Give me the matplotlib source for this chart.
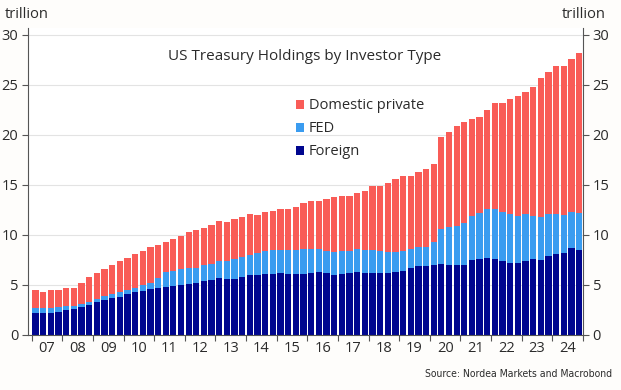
import matplotlib
matplotlib.use("Agg")
import matplotlib.pyplot as plt
import numpy as np

# Readings: stacked cumulative levels (trillion USD), quarterly 2007Q1-2024Q4
total = [4.50, 4.33, 4.47, 4.53, 4.70, 4.67, 5.23, 5.77, 6.23, 6.60, 7.00, 7.37,
         7.73, 8.07, 8.43, 8.83, 9.03, 9.30, 9.57, 9.90, 10.33, 10.50, 10.73, 11.03,
         11.37, 11.33, 11.57, 11.83, 12.10, 12.03, 12.27, 12.43, 12.57, 12.63, 12.83, 13.17,
         13.40, 13.40, 13.60, 13.83, 13.90, 13.90, 14.17, 14.40, 14.90, 14.90, 15.17, 15.57,
         15.90, 15.90, 16.27, 16.60, 17.10, 19.77, 20.30, 20.90, 21.30, 21.63, 21.77, 22.50,
         23.20, 23.20, 23.60, 23.90, 24.30, 24.83, 25.67, 26.27, 26.87, 26.93, 27.63, 28.17]
foreign_plus_fed = [2.73, 2.67, 2.70, 2.77, 2.87, 2.93, 3.10, 3.33, 3.60, 3.87, 4.10, 4.33,
                    4.53, 4.73, 4.97, 5.20, 5.70, 6.30, 6.43, 6.57, 6.67, 6.73, 6.97, 7.10,
                    7.37, 7.43, 7.57, 7.83, 8.00, 8.23, 8.37, 8.47, 8.50, 8.50, 8.50, 8.57,
                    8.60, 8.60, 8.43, 8.33, 8.40, 8.43, 8.57, 8.53, 8.47, 8.40, 8.30, 8.30,
                    8.43, 8.60, 8.80, 8.83, 9.33, 10.57, 10.77, 10.93, 11.20, 11.90, 12.23, 12.57,
                    12.57, 12.33, 12.10, 11.93, 12.07, 11.93, 11.77, 12.10, 12.07, 12.00, 12.33, 12.17]
foreign = [2.23, 2.23, 2.23, 2.33, 2.50, 2.60, 2.77, 3.00, 3.27, 3.50, 3.67, 3.83,
           4.07, 4.33, 4.43, 4.57, 4.73, 4.80, 4.90, 5.00, 5.10, 5.23, 5.37, 5.50,
           5.70, 5.63, 5.63, 5.83, 5.97, 6.00, 6.07, 6.13, 6.20, 6.13, 6.07, 6.13,
           6.23, 6.27, 6.17, 6.00, 6.10, 6.17, 6.30, 6.23, 6.23, 6.23, 6.23, 6.27,
           6.43, 6.67, 6.90, 6.90, 6.97, 7.10, 7.03, 7.03, 7.03, 7.50, 7.57, 7.73,
           7.60, 7.43, 7.23, 7.17, 7.43, 7.57, 7.50, 7.93, 8.10, 8.23, 8.67, 8.50]
years = ["07", "08", "09", "10", "11", "12", "13", "14", "15", "16", "17", "18",
         "19", "20", "21", "22", "23", "24"]
series_names = ["Domestic private", "FED", "Foreign"]

foreign_a = np.array(foreign)
fed_a = np.array(foreign_plus_fed) - foreign_a
dom_a = np.array(total) - np.array(foreign_plus_fed)

c_dom = "#f95c57"
c_fed = "#3a9cf0"
c_for = "#00068f"
txt = "#2b2b2b"

fig = plt.figure(figsize=(6.21, 3.90), dpi=100)
fig.patch.set_facecolor("#fefdfb")
ax = fig.add_axes([28/621, 1-335/390, (583-28)/621, (335-28)/390])
ax.set_facecolor("white")

plt.rcParams["font.family"] = "Open Sans"
x = np.arange(len(total))
w = 0.82
ax.bar(x, foreign_a, width=w, color=c_for, label=series_names[2], zorder=2, linewidth=0)
ax.bar(x, fed_a, width=w, bottom=foreign_a, color=c_fed, label=series_names[1], zorder=2, linewidth=0)
ax.bar(x, dom_a, width=w, bottom=foreign_a + fed_a, color=c_dom, label=series_names[0], zorder=2, linewidth=0)

ax.set_ylim(0, 30.7)
ax.set_xlim(-0.98, len(total) - 0.5)
yt = [0, 5, 10, 15, 20, 25, 30]
ax.set_yticks(yt)
ax.set_yticklabels([str(v) for v in yt], fontsize=10.5, color=txt, family="Open Sans")
ax.yaxis.grid(True, color="#e3e3e3", linewidth=0.8, zorder=0)
ax.tick_params(axis="y", which="both", left=True, right=True, labelleft=True, labelright=True,
               length=4, width=0.8, color="#555555", pad=3)

# x: boundaries as ticks, labels centered
bounds = [-0.5 + 4*k for k in range(len(years) + 1)]
ax.set_xticks(bounds, minor=False)
ax.set_xticklabels([""] * len(bounds))
ax.tick_params(axis="x", which="major", length=4, width=0.8, color="#555555")
centers = [1.5 + 4*k for k in range(len(years))]
ax.set_xticks(centers, minor=True)
ax.set_xticklabels(years, minor=True, fontsize=10.5, color=txt, family="Open Sans")
ax.tick_params(axis="x", which="minor", length=0, pad=4)

for s in ["left", "right", "bottom"]:
    ax.spines[s].set_color("#555555")
    ax.spines[s].set_linewidth(0.8)
ax.spines["top"].set_visible(False)

fig.text(5/621, 1-15/390, "trillion", fontsize=10.5, color=txt, va="center", ha="left", family="Open Sans")
fig.text(606/621, 1-15/390, "trillion", fontsize=10.5, color=txt, va="center", ha="right", family="Open Sans")
ax.text(305/621, 1-57/390, "US Treasury Holdings by Investor Type", transform=fig.transFigure,
        fontsize=11, color=txt, ha="center", va="center", family="Open Sans")

handles, labels = ax.get_legend_handles_labels()
leg = ax.legend(handles[::-1], labels[::-1], loc="upper left",
                bbox_to_anchor=(289/621, 1-91/390), bbox_transform=fig.transFigure,
                frameon=False, handlelength=0.55, handleheight=0.55,
                handletextpad=0.3, labelspacing=0.55, borderpad=0,
                prop={"family": "Open Sans", "size": 10.5})
for t in leg.get_texts():
    t.set_color(txt)

fig.text(612/621, 1-374/390, "Source: Nordea Markets and Macrobond", fontsize=7.5, color=txt,
         ha="right", va="center", family="DejaVu Sans", fontstretch="condensed")

fig.savefig("out.png", dpi=100, facecolor=fig.get_facecolor())
